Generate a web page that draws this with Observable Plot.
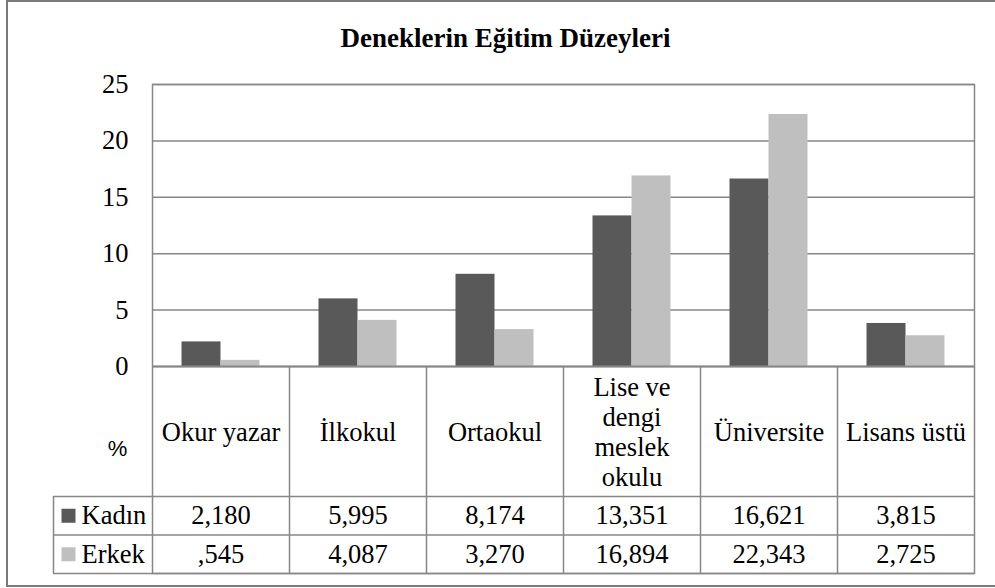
<!DOCTYPE html>
<html><head><meta charset="utf-8">
<script src="https://cdn.jsdelivr.net/npm/d3@7"></script>
<script src="https://cdn.jsdelivr.net/npm/@observablehq/plot@0.6"></script>
<style>
html,body{margin:0;padding:0;background:#fff;overflow:hidden;}
#wrap{position:relative;width:995px;height:588px;overflow:hidden;}
#chart{position:absolute;left:0;top:0;}
#chart svg{font-family:"Liberation Serif","Times New Roman",serif !important;font-size:26.5px;}
#border{position:absolute;left:6px;top:0px;width:1100px;height:587px;border:2px solid #7a7a7a;box-sizing:border-box;pointer-events:none;}
</style></head><body>
<div id="wrap"><div id="chart"></div><div id="border"></div></div>
<script>
// ---- data ----
const title = "Deneklerin Eğitim Düzeyleri";
const categories = ["Okur yazar", "İlkokul", "Ortaokul", "Lise ve dengi meslek okulu", "Üniversite", "Lisans üstü"];
const categoryLabels = ["Okur yazar", "İlkokul", "Ortaokul", "Lise ve\ndengi\nmeslek\nokulu", "Üniversite", "Lisans üstü"];
const series = ["Kadın", "Erkek"];
const kadin = [2.180, 5.995, 8.174, 13.351, 16.621, 3.815];
const erkek = [0.545, 4.087, 3.270, 16.894, 22.343, 2.725];
const yTicks = [0, 5, 10, 15, 20, 25];
const unitLabel = "%";
const seriesColors = ["#595959", "#bfbfbf"];

// ---- layout ----
const W = 995, H = 588, mL = 152, mR = 21, mT = 84, mB = 15, zeroY = 366;
const plotH = zeroY - mT;
const band = (W - mL - mR) / categories.length;
const barW = 39;
const gap = (band - 2 * barW) / 2;
const headerH = 130, rowH = 38.5, rowHeadW = 99;
const gridColor = "#878787";
const fs = 26.5;
const serif = "'Liberation Serif', 'Times New Roman', serif";

const values = [kadin, erkek];
const fmt = v => v.toFixed(3).replace(".", ",").replace(/^0,/, ",");
const rows = series.flatMap((s, j) => categories.map((c, i) => ({cat: c, series: s, value: values[j][i]})));

const marks = [
  Plot.ruleY(yTicks, {stroke: gridColor, strokeWidth: 1.5}),
  Plot.barY(rows.filter(d => d.series === series[0]), {x: "cat", y: "value", fill: "series", insetLeft: gap, insetRight: band - gap - barW}),
  Plot.barY(rows.filter(d => d.series === series[1]), {x: "cat", y: "value", fill: "series", insetLeft: gap + barW, insetRight: gap}),
  Plot.ruleY([0], {stroke: gridColor, strokeWidth: 2}),
  Plot.frame({stroke: gridColor, strokeWidth: 1.5}),
  // table: vertical separators
  Plot.ruleX(categories.slice(1), {x: d => d, dx: -band / 2, insetTop: plotH, stroke: gridColor, strokeWidth: 1.5}),
  // row header left edge
  Plot.ruleX([categories[0]], {x: d => d, dx: -band / 2 - rowHeadW, insetTop: plotH + headerH, stroke: gridColor, strokeWidth: 1.5}),
  // horizontal row lines
  Plot.ruleY([0], {dy: headerH, insetLeft: -rowHeadW, stroke: gridColor, strokeWidth: 1.5}),
  Plot.ruleY([0], {dy: headerH + rowH, insetLeft: -rowHeadW, stroke: gridColor, strokeWidth: 1.5}),
  Plot.ruleY([0], {dy: headerH + 2 * rowH, insetLeft: -rowHeadW, stroke: gridColor, strokeWidth: 1.5}),
  // header labels
  Plot.text(categories, {x: d => d, y: 0, dy: headerH / 2, text: (d, i) => categoryLabels[i], lineHeight: 1.13, lineAnchor: "middle", fontFamily: serif, fontSize: fs, fill: "black"}),
  Plot.text([unitLabel], {frameAnchor: "left", y: 0, dx: -35, dy: 82, textAnchor: "middle", fontFamily: "'Liberation Sans', Arial, sans-serif", fontSize: 22, fill: "black"}),
  // title
  Plot.text([title], {frameAnchor: "top", dx: -58, dy: -46, lineAnchor: "middle", fontFamily: serif, fontWeight: "bold", fontSize: 27, fill: "black"})
];
series.forEach((s, j) => {
  const dy = headerH + rowH * (j + 0.5);
  marks.push(
    Plot.dot([s], {frameAnchor: "left", y: 0, dx: -84, dy, symbol: "square", r: 7.9, fill: d => d, stroke: null}),
    Plot.text([s], {frameAnchor: "left", y: 0, dx: -71, dy, textAnchor: "start", fontFamily: serif, fontSize: fs, fill: "black"}),
    Plot.text(categories, {x: d => d, y: 0, dy, text: (d, i) => fmt(values[j][i]), fontFamily: serif, fontSize: fs, fill: "black"})
  );
});

const chart = Plot.plot({
  width: W, height: H,
  marginLeft: mL, marginRight: mR, marginTop: mT, marginBottom: mB,
  style: {fontFamily: serif, fontSize: fs + "px", color: "black", background: "white"},
  x: {type: "band", domain: categories, padding: 0, axis: null},
  y: {domain: [0, 25], range: [zeroY, mT], ticks: yTicks, tickSize: 0, tickPadding: 24, label: null},
  color: {domain: series, range: seriesColors},
  marks
});
document.getElementById("chart").appendChild(chart);
</script>
</body></html>
